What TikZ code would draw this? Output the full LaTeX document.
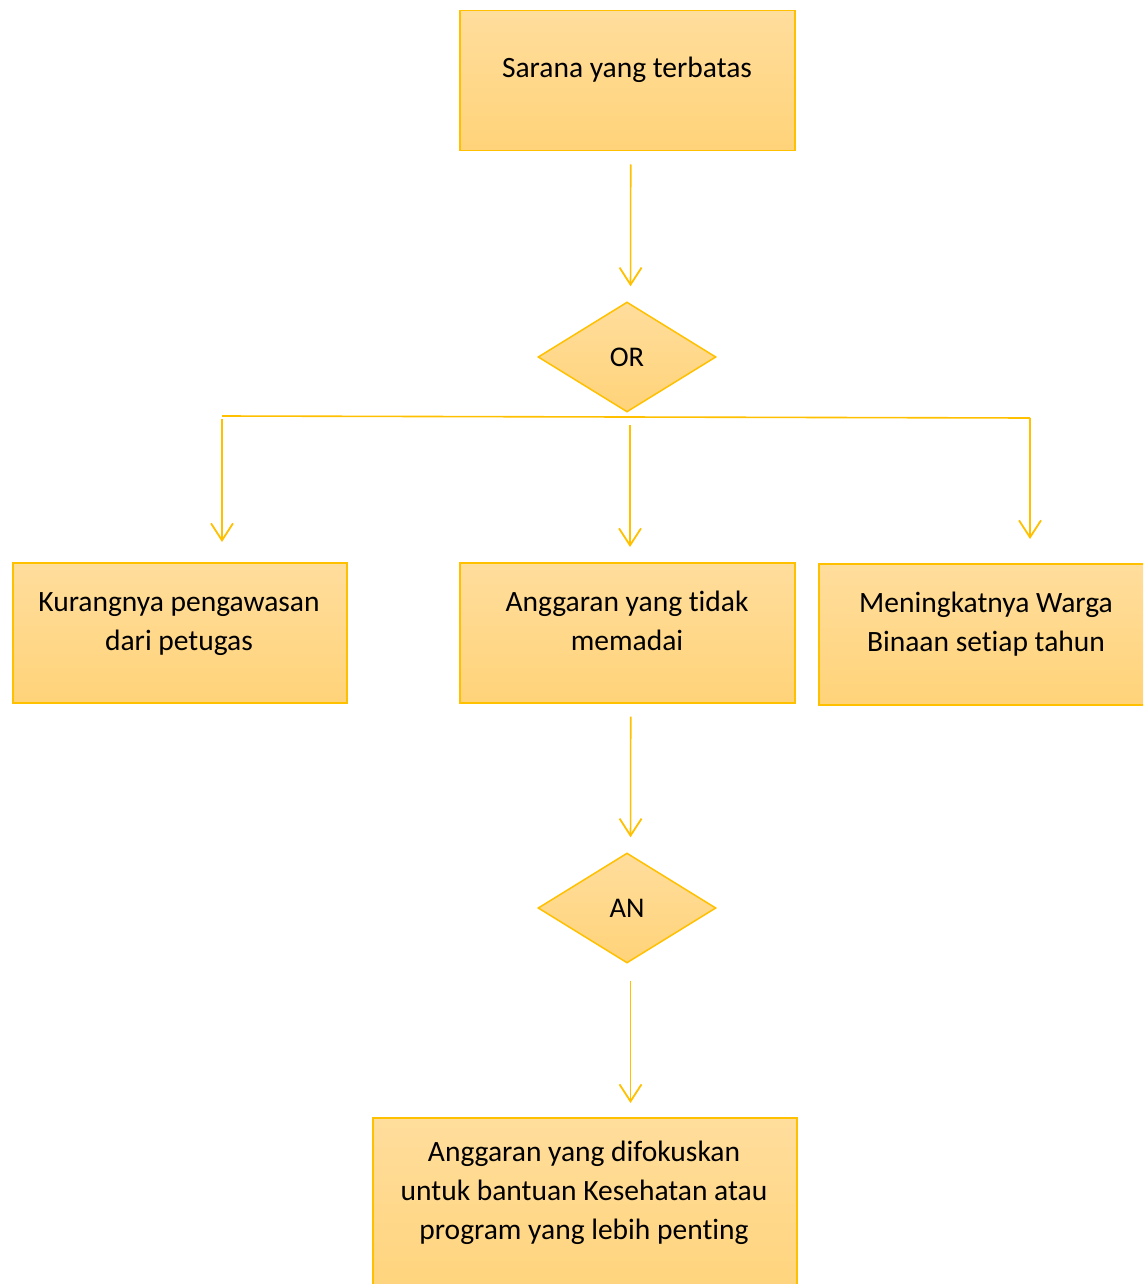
\documentclass[tikz,border=0pt]{standalone}
\usepackage{fontspec}
\setmainfont{Carlito}[Ligatures=NoCommon]
\usetikzlibrary{arrows.meta,shapes.geometric}
\definecolor{gold}{RGB}{255,192,0}
\definecolor{filltop}{RGB}{255,221,156}
\definecolor{fillbot}{RGB}{255,211,121}
\tikzset{
  box/.style={draw=gold, line width=1.5pt, top color=filltop, bottom color=fillbot,
    rectangle, inner sep=0pt, anchor=north west},
  gate/.style={draw=gold, line width=1.5pt, top color=filltop, bottom color=fillbot,
    diamond, inner sep=0pt, minimum width=178pt, minimum height=110pt,
    font=\fontsize{28.5}{34}\selectfont},
  txt/.style={align=center, anchor=base, inner sep=0pt,
    font=\fontsize{29.5}{38.7}\selectfont},
  conn/.style={draw=gold, line width=1.6pt},
  arr/.style={conn, -{Straight Barb[length=17pt,width=22pt,line width=1.8pt]}},
}
\begin{document}
\begin{tikzpicture}[x=1pt,y=-1pt]
\useasboundingbox (0,0) rectangle (1143,1284);
\clip (0,0) rectangle (1143,1284);

% boxes and gates (text placed by the baseline of its last line)
\node[box, minimum width=335pt, minimum height=140pt] (top) at (459,10) {};
\node[txt] at (627,78) {Sarana yang terbatas};

\node[gate] (or) at (627,357) {OR};

\node[box, minimum width=334pt, minimum height=140pt] (kur) at (12,562) {};
\node[txt] at (179,650) {Kurangnya pengawasan\\dari petugas};

\node[box, minimum width=335pt, minimum height=140pt] (ang) at (459,562) {};
\node[txt] at (627,650) {Anggaran yang tidak\\memadai};

\node[box, minimum width=336pt, minimum height=141pt] (war) at (818,563) {};
\node[txt] at (986,651) {Meningkatnya Warga\\Binaan setiap tahun};

\node[gate] (an) at (627,908) {AN};

\node[box, minimum width=424pt, minimum height=190pt] (fok) at (372,1117) {};
\node[txt] at (584,1239) {Anggaran yang difokuskan\\untuk bantuan Kesehatan atau\\program yang lebih penting};

% connectors
\coordinate (barL) at (222,416);
\coordinate (barR) at (1030,418);

\draw[arr, shorten <=13pt, shorten >=15pt] ([xshift=3.5pt]top.south) -- ([xshift=3.5pt]or.north);
\draw[conn] (barL) -- (barR);
\draw[arr, shorten <=3pt, shorten >=20pt] (barL) -- (barL |- kur.north);
\draw[arr, shorten <=8pt, shorten >=15pt] (630,417) -- (630,562);
\draw[arr, shorten <=0pt, shorten >=24pt] (barR) -- (barR |- war.north);
\draw[arr, shorten <=13pt, shorten >=15pt] ([xshift=3.5pt]ang.south) -- ([xshift=3.5pt]an.north);
\draw[arr, shorten <=17pt, shorten >=14pt] ([xshift=3.5pt]an.south) -- ([xshift=3.5pt]an.south |- fok.north);
\end{tikzpicture}
\end{document}
